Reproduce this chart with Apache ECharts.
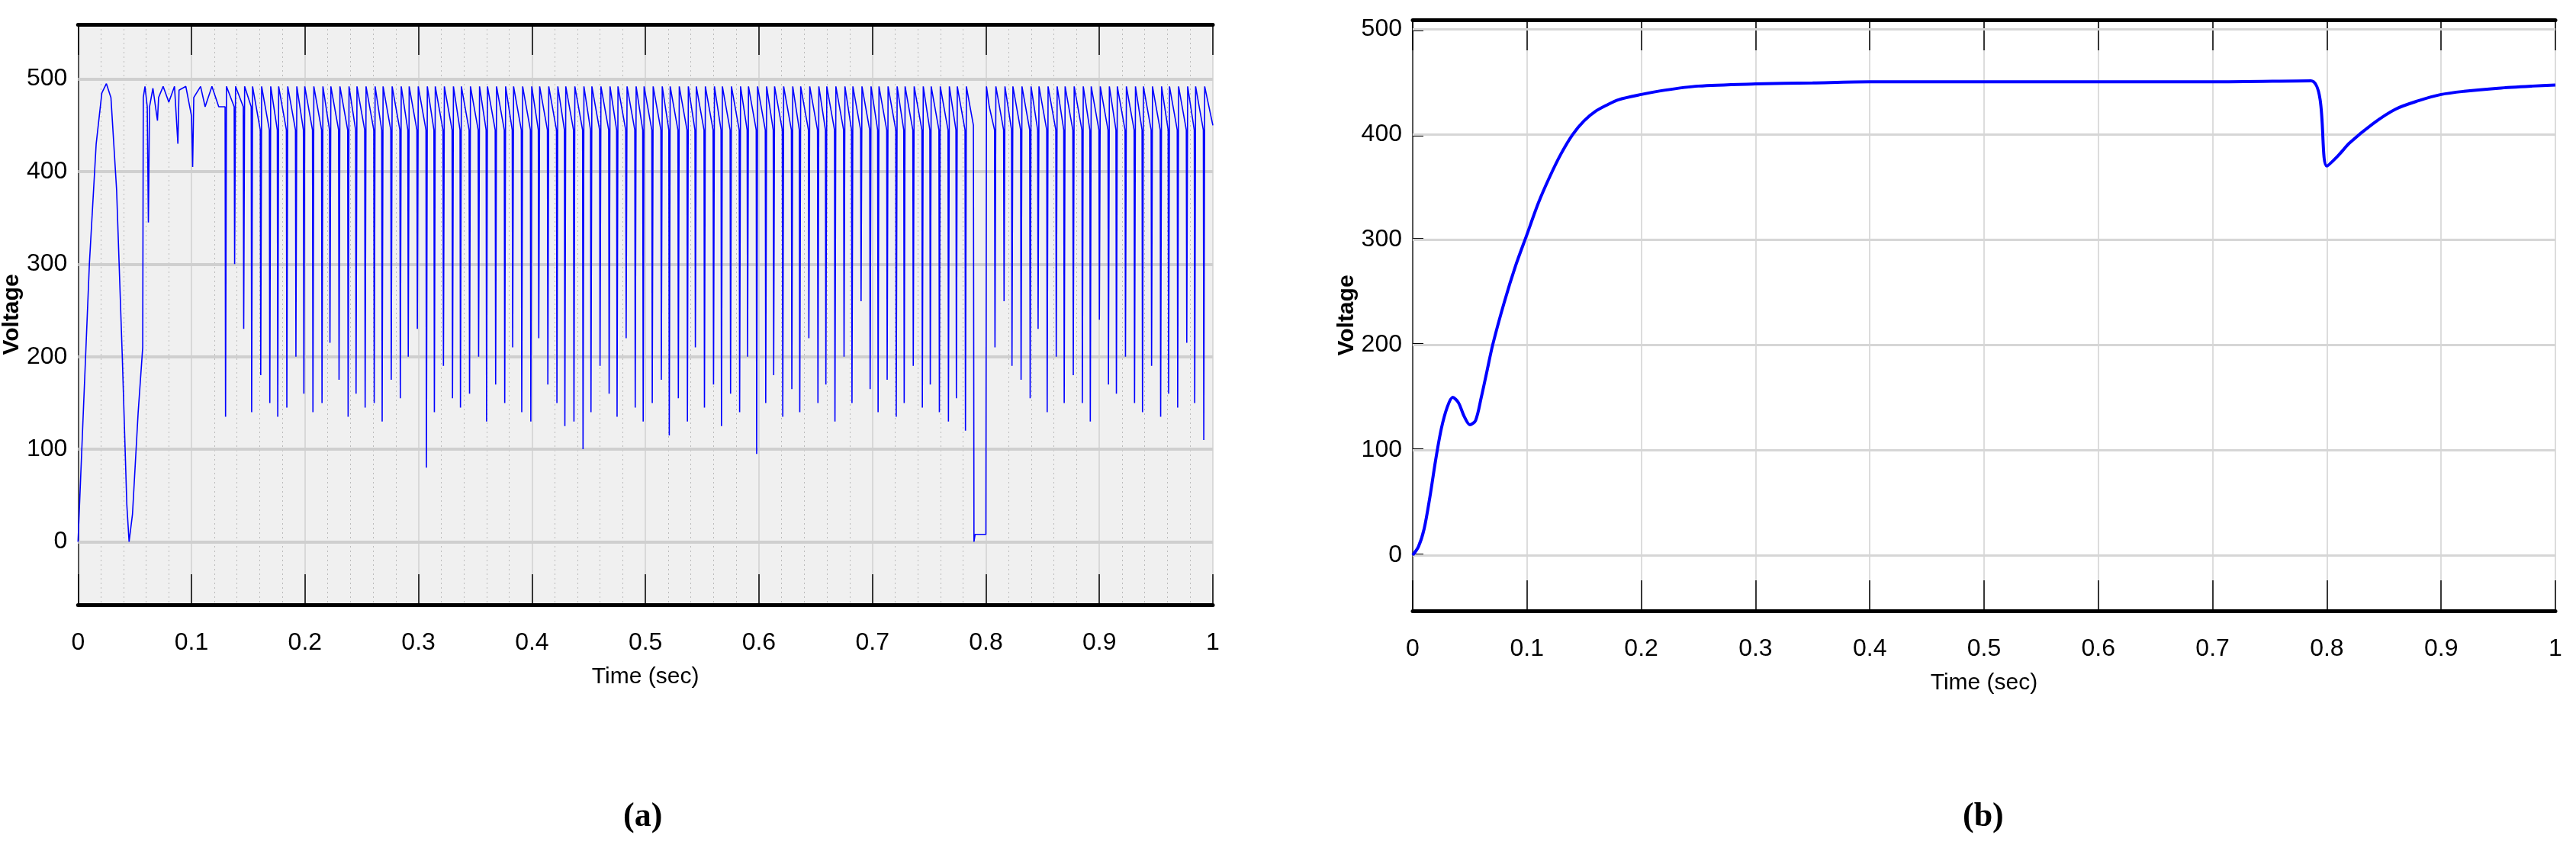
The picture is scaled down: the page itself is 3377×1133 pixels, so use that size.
<!DOCTYPE html>
<html>
<head>
<meta charset="utf-8">
<script src="https://cdn.jsdelivr.net/npm/echarts@6/dist/echarts.min.js"></script>
<style>
  html, body { margin: 0; padding: 0; background: #fff; }
  #main { width: 3377px; height: 1133px; }
</style>
</head>
<body>
<div id="main"></div>
<script>
// 左图：启动段（时间, 电压）
var startA = [
  [0, 0], [0.004, 120], [0.01, 300], [0.016, 430], [0.021, 485], [0.025, 495],
  [0.029, 480], [0.034, 380], [0.039, 200], [0.043, 40], [0.045, 0], [0.048, 30],
  [0.053, 140], [0.057, 210], [0.0575, 480], [0.059, 492], [0.061, 470], [0.062, 345],
  [0.063, 470], [0.066, 490], [0.07, 455], [0.071, 480], [0.075, 492], [0.08, 475],
  [0.085, 492], [0.088, 430], [0.089, 488], [0.095, 492], [0.1, 460], [0.101, 405],
  [0.102, 480], [0.108, 492], [0.112, 470], [0.118, 492], [0.124, 470]
];
// 左图：每个尖峰的时间与最低电压
var dipTimes = [
  0.130,0.138,0.146,0.153,0.161,0.169,0.176,0.184,0.192,0.199,0.207,0.215,0.222,0.230,0.238,0.245,
  0.253,0.261,0.268,0.276,0.284,0.291,0.299,0.307,0.314,0.322,0.330,0.337,0.345,0.353,0.360,0.368,
  0.376,0.383,0.391,0.399,0.406,0.414,0.422,0.429,0.437,0.445,0.452,0.460,0.468,0.475,0.483,0.491,
  0.498,0.506,0.514,0.521,0.529,0.537,0.544,0.552,0.560,0.567,0.575,0.583,0.590,0.598,0.606,0.613,
  0.621,0.629,0.636,0.644,0.652,0.659,0.667,0.675,0.682,0.690,0.698,0.705,0.713,0.721,0.728,0.736,
  0.744,0.751,0.759,0.767,0.774,0.782,
  0.808,0.816,0.823,0.831,0.839,0.846,0.854,0.862,0.869,0.877,0.885,0.892,0.900,0.908,0.915,0.923,
  0.931,0.938,0.946,0.954,0.961,0.969,0.977,0.984,0.992
];
var dipMins = [
  135,300,230,140,180,150,135,145,200,160,140,150,215,175,135,160,
  145,150,130,175,155,200,230,80,140,190,155,145,160,200,130,170,
  150,210,140,130,220,170,150,125,130,100,140,190,160,135,220,145,
  130,150,175,115,155,130,210,145,170,125,160,140,200,95,150,180,
  135,165,140,220,150,170,130,200,150,260,165,140,175,135,150,190,
  145,170,140,130,155,120,
  210,260,190,175,155,230,140,200,150,180,150,130,240,170,160,200,
  150,140,190,135,160,145,215,150,110
];
// 0.79 s 处的跌落
var dropA = [[0.789, 450], [0.7895, 0], [0.7905, 8], [0.8, 8], [0.8005, 492], [0.803, 470]];

// 右图：电压响应
var timeB = [0, 0.005, 0.01, 0.015, 0.02, 0.025, 0.03, 0.035, 0.04, 0.045, 0.05, 0.055, 0.06, 0.065,
  0.07, 0.08, 0.09, 0.1, 0.11, 0.12, 0.13, 0.14, 0.15, 0.16, 0.17, 0.18, 0.2, 0.22, 0.25, 0.3, 0.35,
  0.4, 0.5, 0.6, 0.7, 0.786, 0.8, 0.81, 0.82, 0.84, 0.86, 0.88, 0.9, 0.92, 0.95, 0.98, 1.0];
var voltB = [0, 8, 25, 55, 90, 120, 140, 150, 145, 132, 124, 128, 150, 175,
  200, 240, 275, 305, 335, 360, 382, 400, 413, 422, 428, 433, 438, 442, 446, 448, 449,
  450, 450, 450, 450, 451, 370, 380, 392, 410, 424, 432, 438, 441, 444, 446, 447];

var yTicks = [0, 100, 200, 300, 400, 500];

var seriesA = startA.slice();
for (var i = 0; i < dipTimes.length; i++) {
  var t = dipTimes[i];
  var sag = t < 0.16 ? 470 : 445;
  if (i === 86) seriesA = seriesA.concat(dropA);
  seriesA.push([t - 0.0004, sag], [t, dipMins[i]], [t + 0.0008, 492]);
}
seriesA.push([1, 450]);
var seriesB = timeB.map(function (t, i) { return [t, voltB[i]]; });

var narrow = '"Liberation Sans Narrow", "Liberation Sans", Arial, sans-serif';
var labelStyle = { color: '#000', fontFamily: narrow, fontSize: 32 };

function xAxes(gi) {
  return [{
    type: 'value', gridIndex: gi, min: 0, max: 1, interval: 0.1,
    axisLine: { show: true, onZero: false, lineStyle: { color: '#000', width: 5 } },
    axisTick: { show: true, inside: true, length: 40, lineStyle: { color: '#000', width: 1.5 } },
    axisLabel: Object.assign({ margin: 34, formatter: function (v) { return +v.toFixed(1) + ''; } }, labelStyle),
    splitLine: { show: true, lineStyle: { color: '#d0d0d0', width: 1.5 } },
    minorTick: { show: false },
    minorSplitLine: { show: gi === 0, lineStyle: { color: '#bbb', type: [2, 4], width: 1 } },
    name: 'Time (sec)', nameLocation: 'middle', nameGap: 80,
    nameTextStyle: { color: '#000', fontFamily: narrow, fontSize: 30 }
  }, {
    type: 'value', gridIndex: gi, position: 'top', min: 0, max: 1, interval: 0.1,
    axisLine: { show: true, onZero: false, lineStyle: { color: '#000', width: 5 } },
    axisTick: { show: true, inside: true, length: 40, lineStyle: { color: '#000', width: 1.5 } },
    axisLabel: { show: false }, splitLine: { show: false }
  }];
}
function yAxis(gi, min, max) {
  return {
    type: 'value', gridIndex: gi, min: min, max: max,
    axisLine: { show: true, onZero: false, lineStyle: { color: '#555', width: 2 } },
    axisTick: { show: true, inside: true, length: 14, customValues: yTicks, lineStyle: { color: '#000', width: 4 } },
    axisLabel: Object.assign({ customValues: yTicks, margin: 14 }, labelStyle),
    splitLine: { show: false },
    name: 'Voltage', nameLocation: 'middle', nameGap: 64,
    nameTextStyle: { color: '#000', fontFamily: 'Liberation Sans, Arial, sans-serif', fontWeight: 'bold', fontSize: 30 }
  };
}

var myChart = echarts.init(document.getElementById('main'));
var option = {
  backgroundColor: '#fff',
  animation: false,
  grid: [
    { left: 86, top: 32, width: 1504, height: 761, show: true, backgroundColor: '#f0f0f0', borderWidth: 0 },
    { left: 1852, top: 26, width: 1498, height: 775, show: true, backgroundColor: '#fff', borderWidth: 0 }
  ],
  xAxis: xAxes(0).concat(xAxes(1)),
  yAxis: [yAxis(0, -68, 559), yAxis(1, -53, 509)],
  graphic: [
    { type: 'text', left: 817, top: 1050, style: { text: '(a)', font: 'bold 44px "Liberation Serif", serif', fill: '#000' } },
    { type: 'text', left: 2573, top: 1050, style: { text: '(b)', font: 'bold 44px "Liberation Serif", serif', fill: '#000' } }
  ],
  series: [
    // y 方向的网格线（只在整百处）
    {
      type: 'line', xAxisIndex: 0, yAxisIndex: 0, data: [], silent: true,
      markLine: { symbol: 'none', silent: true, label: { show: false },
        lineStyle: { color: '#cfcfcf', type: 'solid', width: 4 },
        data: yTicks.map(function (v) { return { yAxis: v }; }) }
    },
    {
      type: 'line', xAxisIndex: 2, yAxisIndex: 1, data: [], silent: true,
      markLine: { symbol: 'none', silent: true, label: { show: false },
        lineStyle: { color: '#d6d6d6', type: 'solid', width: 3 },
        data: yTicks.map(function (v) { return { yAxis: v }; }) }
    },
    {
      type: 'line', xAxisIndex: 0, yAxisIndex: 0, data: seriesA, showSymbol: false,
      lineStyle: { color: '#0000ff', width: 1.6 }, z: 5
    },
    {
      type: 'line', xAxisIndex: 2, yAxisIndex: 1, data: seriesB, showSymbol: false, smooth: 0.3,
      lineStyle: { color: '#0000ff', width: 4 }, z: 5
    }
  ]
};
myChart.setOption(option);
</script>
</body>
</html>
